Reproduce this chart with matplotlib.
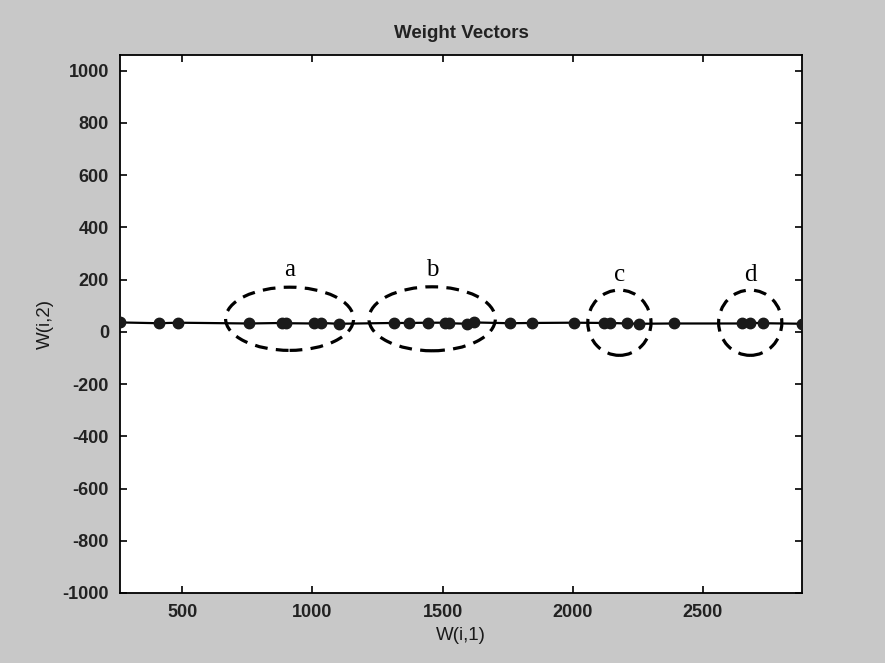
import matplotlib
matplotlib.use("Agg")
import matplotlib.pyplot as plt
from matplotlib.patches import Ellipse

# weight vectors (W(i,1), W(i,2))
w1 = [260, 410, 482, 756, 884, 897, 1005, 1031, 1101, 1313, 1370, 1444, 1511,
      1524, 1594, 1620, 1761, 1844, 2004, 2119, 2145, 2208, 2256, 2391, 2651,
      2684, 2732, 2882]
w2 = [36, 33, 35, 32, 34, 33, 32, 34, 31, 34, 34, 35, 35,
      33, 31, 36, 33, 34, 35, 34, 34, 32, 31, 32, 32,
      35, 33, 31]

# cluster annotations: label, centre x, centre y, width, height
groups = ["a", "b", "c", "d"]
grp_cx = [912, 1460, 2180, 2683]
grp_cy = [50, 50, 35, 35]
grp_w = [492, 486, 243, 243]
grp_h = [242, 245, 250, 250]
lbl_y = [236, 236, 217, 217]

plt.rcParams["axes.unicode_minus"] = False
sans = ["Liberation Sans", "DejaVu Sans"]
fsz = 13.5

fig = plt.figure(figsize=(8.85, 6.63), dpi=100, facecolor="#c8c8c8")
ax = fig.add_axes([0.1356, 0.1056, 0.7706, 0.8114])
ax.set_facecolor("white")

ax.plot(w1, w2, color="black", linewidth=1.6, zorder=3)
ax.plot(w1, w2, linestyle="none", marker="o", markersize=7.5,
        color="#1a1a1a", zorder=4)

for g, cx, cy, w, h, ly in zip(groups, grp_cx, grp_cy, grp_w, grp_h, lbl_y):
    ax.add_patch(Ellipse((cx, cy), w, h, fill=False, edgecolor="black",
                         linewidth=2.3, linestyle=(0, (4, 2.6)), zorder=5))
    ax.text(cx, ly, g, family="Liberation Serif", fontsize=18,
            ha="center", va="center")

ax.set_xlim(min(w1), max(w1))
ax.set_ylim(-1000, 1060)
ax.set_xticks([500, 1000, 1500, 2000, 2500])
ax.set_yticks(range(-1000, 1001, 200))

ax.tick_params(direction="in", length=5, width=1.2, top=True, right=True,
               labelsize=13, pad=8)
for lab in ax.get_xticklabels() + ax.get_yticklabels():
    lab.set_family(sans)
    lab.set_fontweight("bold")
    lab.set_color("#222222")
for sp in ax.spines.values():
    sp.set_linewidth(1.3)

ax.set_title("Weight Vectors", family=sans, fontsize=fsz, pad=12,
             fontweight="bold", color="#222222")
ax.set_xlabel("W(i,1)", family=sans, fontsize=fsz, labelpad=4, color="#1a1a1a")
ax.set_ylabel("W(i,2)", family=sans, fontsize=fsz, labelpad=6, color="#1a1a1a")

fig.savefig("out.png", dpi=100, facecolor=fig.get_facecolor())
